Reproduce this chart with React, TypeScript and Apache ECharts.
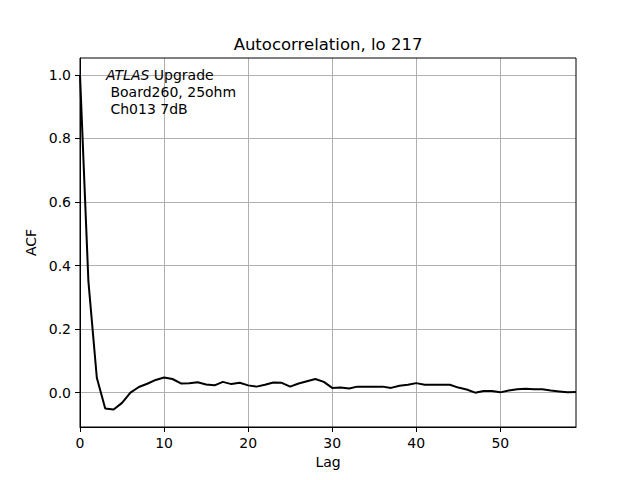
import React, { useEffect, useRef } from "react";
import * as echarts from "echarts";

const lags: number[] = Array.from({ length: 60 }, (_, i) => i);
const acf: number[] = [
  1.0, 0.35, 0.047, -0.05, -0.053, -0.032, 0.0, 0.018, 0.028, 0.04,
  0.048, 0.043, 0.029, 0.03, 0.033, 0.026, 0.023, 0.034, 0.027, 0.031,
  0.023, 0.019, 0.025, 0.032, 0.031, 0.019, 0.029, 0.036, 0.043, 0.034,
  0.015, 0.016, 0.013, 0.019, 0.019, 0.019, 0.019, 0.015, 0.022, 0.025,
  0.030, 0.025, 0.025, 0.025, 0.025, 0.016, 0.010, 0.0, 0.005, 0.005,
  0.001, 0.007, 0.011, 0.012, 0.011, 0.011, 0.007, 0.004, 0.001, 0.002,
];
const xTicks: number[] = [0, 10, 20, 30, 40, 50];
const yTicks: number[] = [0, 0.2, 0.4, 0.6, 0.8, 1.0];

const FONT = "DejaVu Sans";

export default function App() {
  const ref = useRef<HTMLDivElement>(null);
  useEffect(() => {
    if (!ref.current) return;
    const chart = echarts.init(ref.current, null, { renderer: "svg" });
    chart.setOption({
      animation: false,
      backgroundColor: "#ffffff",
      textStyle: { fontFamily: FONT },
      grid: { left: 80, right: 64, top: 58, bottom: 53, containLabel: false },
      xAxis: {
        type: "value",
        min: 0,
        max: 59,
        name: "Lag",
        nameLocation: "middle",
        nameGap: 27,
        nameTextStyle: { fontFamily: FONT, fontSize: 14, color: "#000" },
        axisLine: { onZero: false, lineStyle: { color: "#000", width: 1 } },
        axisTick: { show: true, length: 5, customValues: xTicks, lineStyle: { color: "#000" } },
        axisLabel: { customValues: xTicks, margin: 9, fontFamily: FONT, fontSize: 14, color: "#000" },
        splitLine: { show: true, lineStyle: { color: "#b0b0b0", width: 1 } },
      },
      yAxis: {
        type: "value",
        min: -0.108,
        max: 1.053,
        name: "ACF",
        nameLocation: "middle",
        nameGap: 39,
        nameTextStyle: { fontFamily: FONT, fontSize: 14, color: "#000" },
        axisLine: { show: true, onZero: false, lineStyle: { color: "#000", width: 1 } },
        axisTick: { show: true, length: 5, customValues: yTicks, lineStyle: { color: "#000" } },
        axisLabel: {
          customValues: yTicks,
          margin: 9,
          fontFamily: FONT,
          fontSize: 14,
          color: "#000",
          formatter: (v: number) => v.toFixed(1),
        },
        splitLine: { show: true, lineStyle: { color: "#b0b0b0", width: 1 } },
      },
      graphic: [
        {
          type: "rect",
          shape: { x: 80, y: 58, width: 496, height: 369 },
          style: { fill: "none", stroke: "#000", lineWidth: 1 },
          silent: true,
          z: 10,
        },
        {
          type: "text",
          x: 328,
          y: 44,
          style: {
            text: "Autocorrelation, lo 217",
            fontFamily: FONT,
            fontSize: 16.5,
            fill: "#000",
            align: "center",
            verticalAlign: "middle",
          },
          z: 20,
        },
        {
          type: "text",
          left: 106,
          top: 66,
          style: {
            text: "{i|ATLAS} Upgrade\n Board260, 25ohm\n Ch013 7dB",
            fontFamily: FONT,
            fontSize: 14,
            lineHeight: 17,
            fill: "#000",
            rich: {
              i: { fontStyle: "italic", fontFamily: FONT, fontSize: 14, lineHeight: 17 },
            },
          },
          z: 20,
        },
      ],
      series: [
        {
          type: "line",
          data: lags.map((l, i) => [l, acf[i]]),
          showSymbol: false,
          symbol: "none",
          lineStyle: { color: "#000", width: 2 },
          clip: true,
        },
      ],
    });
    return () => chart.dispose();
  }, []);
  return (
    <div
      ref={ref}
      style={{ position: "fixed", left: 0, top: 0, width: 640, height: 480 }}
    />
  );
}
